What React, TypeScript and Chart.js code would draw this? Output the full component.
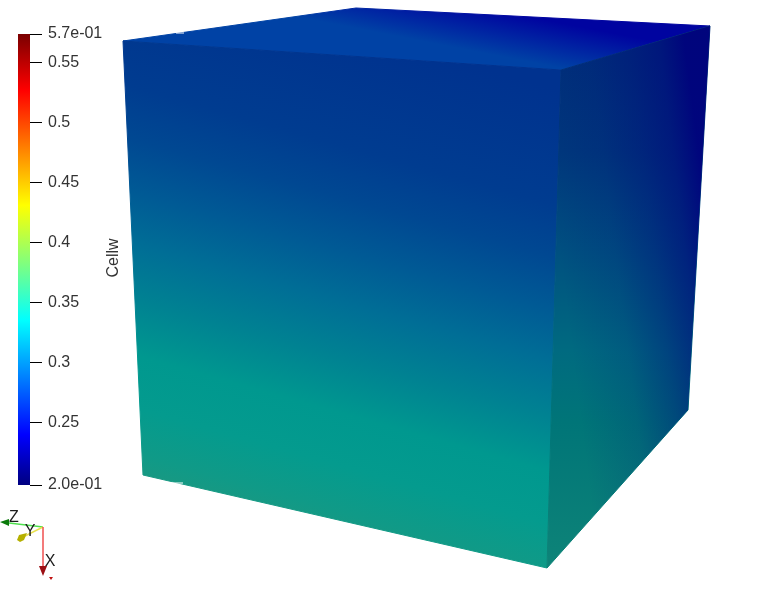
import React, { useEffect, useRef } from "react";
import { Chart, registerables } from "chart.js";

Chart.register(...registerables);

const W = 784;
const H = 611;
const FONT = "'Liberation Sans', Arial, sans-serif";

// colour bar
const barRange = [0.198, 0.5738];
const tickValues = [0.198, 0.25, 0.3, 0.35, 0.4, 0.45, 0.5, 0.55, 0.5738];
const tickLabels = ["2.0e-01", "0.25", "0.3", "0.35", "0.4", "0.45", "0.5", "0.55", "5.7e-01"];
const barStops: [number, string][] = [
  [0, "#000080"], [0.111, "#0000ff"], [0.365, "#00ffff"], [0.49, "#7fff7f"],
  [0.62, "#ffff00"], [0.875, "#ff0000"], [1, "#7a0000"],
];

// cube faces: corners in picture units
const frontX = [123, 561, 547, 143];
const frontY = [41, 70, 568, 475];
const topX = [123, 356, 710, 561];
const topY = [41, 8, 26, 70];
const rightX = [561, 710, 688, 547];
const rightY = [70, 26, 410, 568];

const frontStops: [number, string][] = [
  [0, "#00328f"], [0.2, "#003c90"], [0.29, "#004892"], [0.38, "#005a95"], [0.47, "#006e96"],
  [0.565, "#008292"], [0.66, "#00988f"], [0.75, "#049b8e"], [0.83, "#109a87"], [0.92, "#25967a"], [1, "#25967a"],
];
const topStops: [number, string][] = [[0, "#0004a0"], [1, "#0042a5"]];
const rightStops: [number, string][] = [
  [0, "#00307a"], [0.18, "#00387c"], [0.37, "#004f80"], [0.57, "#006a80"], [0.71, "#007578"], [0.98, "#0d8378"],
];
const rightShade: [number, string][] = [
  [0, "rgba(0,10,125,0)"], [0.37, "rgba(0,10,125,0.15)"], [0.63, "rgba(0,10,125,0.4)"],
  [0.83, "rgba(0,10,125,0.65)"], [1, "rgba(0,0,125,0.9)"],
];

// orientation marker
const origin = [43, 527];
const zEnd = [9, 523];
const yEnd = [23, 537];
const xEnd = [43, 568];
const zConeX = [0, 9, 9];
const zConeY = [522, 519, 526];
const yConeX = [17, 19, 27, 24, 20];
const yConeY = [540, 535, 533, 540, 542];
const xConeX = [39, 47, 43];
const xConeY = [566, 566, 576];
const dotX = [49, 53, 51];
const dotY = [577, 577, 580];
const triadLabels: [string, number, number][] = [["Z", 14, 518], ["Y", 30, 532], ["X", 50, 562]];

const pts = (xs: number[], ys: number[]) => xs.map((x, i) => ({ x, y: ys[i] }));

const gradient = (g: number[], stops: [number, string][]) => (c: any) => {
  if (!c.chart.chartArea) return stops[0][1];
  const grad = c.chart.ctx.createLinearGradient(
    c.chart.scales.x.getPixelForValue(g[0]), c.chart.scales.y.getPixelForValue(g[1]),
    c.chart.scales.x.getPixelForValue(g[2]), c.chart.scales.y.getPixelForValue(g[3]));
  stops.forEach(([p, col]) => grad.addColorStop(p, col));
  return grad;
};

const poly = (xs: number[], ys: number[], fill: any, edge = false) => ({
  data: pts([...xs, xs[0]], [...ys, ys[0]]), showLine: true, fill: "shape", backgroundColor: fill,
  borderWidth: edge ? 1 : 0, borderColor: edge ? fill : "transparent", pointRadius: 0, tension: 0,
});
const seg = (x: number[], y: number[], color: string, width = 1) => ({
  data: pts(x, y), showLine: true, fill: false, borderColor: color, borderWidth: width, pointRadius: 0,
});

const textPlugin = {
  id: "texts",
  afterDatasetsDraw(chart: any) {
    const { ctx } = chart;
    ctx.save();
    ctx.fillStyle = "#1c1c1c";
    ctx.font = `16px ${FONT}`;
    ctx.textAlign = "center";
    ctx.textBaseline = "middle";
    triadLabels.forEach(([t, x, y]) => ctx.fillText(t, x, y));
    ctx.translate(114, 258);
    ctx.rotate(-Math.PI / 2);
    ctx.fillStyle = "#333";
    ctx.fillText("Cellw", 0, 0);
    ctx.restore();
  },
};

export default function App() {
  const mainRef = useRef<HTMLCanvasElement>(null);
  const barRef = useRef<HTMLCanvasElement>(null);

  useEffect(() => {
    const main = new Chart(mainRef.current!, {
      type: "scatter",
      data: {
        // Chart.js paints the first dataset last, so the topmost marks come first.
        datasets: [
          poly(dotX, dotY, "#c01010"),
          poly(xConeX, xConeY, "#9c0f14"),
          poly(yConeX, yConeY, "#b5b000"),
          poly(zConeX, zConeY, "#0b7a0b"),
          seg([origin[0], xEnd[0]], [origin[1], xEnd[1]], "#f05050", 1.5),
          seg([origin[0], yEnd[0]], [origin[1], yEnd[1]], "#e8e050", 1.5),
          seg([origin[0], zEnd[0]], [origin[1], zEnd[1]], "#4fe04f", 1.5),
          seg([171, 183], [483, 483], "#ffffff"),
          seg([176, 184], [33, 33], "#ffffff"),
          poly(rightX, rightY, gradient([565, 300, 715, 281], rightShade)),
          poly(rightX, rightY, gradient([600, 60, 590, 570], rightStops), true),
          poly(frontX, frontY, gradient([345, 30, 193.8, 570], frontStops), true),
          poly(topX, topY, gradient([530, 17, 521.6, 60.4], topStops), true),
        ] as any,
      },
      options: {
        animation: false,
        responsive: false,
        layout: { padding: 0 },
        plugins: { legend: { display: false }, tooltip: { enabled: false } },
        scales: {
          x: { type: "linear", min: 0, max: W, display: false },
          y: { type: "linear", min: 0, max: H, reverse: true, display: false },
        },
      },
      plugins: [textPlugin],
    } as any);

    const bar = new Chart(barRef.current!, {
      type: "bar",
      data: {
        datasets: [{
          data: [{ x: 26, y: barRange }],
          barThickness: 16,
          borderWidth: 0,
          backgroundColor: (c: any) => {
            const area = c.chart.chartArea;
            if (!area) return barStops[0][1];
            const grad = c.chart.ctx.createLinearGradient(0, area.bottom, 0, area.top);
            barStops.forEach(([p, col]) => grad.addColorStop(p, col));
            return grad;
          },
        }],
      } as any,
      options: {
        animation: false,
        responsive: false,
        layout: { padding: { left: 18, top: 34, bottom: H - 485, right: 0 } },
        plugins: { legend: { display: false }, tooltip: { enabled: false } },
        scales: {
          x: { type: "linear", min: 18, max: 30, display: false },
          y: {
            type: "linear",
            position: "right",
            min: barRange[0],
            max: barRange[1],
            z: 1,
            border: { display: false },
            grid: { drawOnChartArea: false, color: "#000", tickLength: 12, tickWidth: 1 },
            afterFit: (s: any) => { s.width = 80; },
            afterBuildTicks: (s: any) => { s.ticks = tickValues.map((value) => ({ value })); },
            ticks: {
              autoSkip: false, padding: 6, color: "#333", maxRotation: 0,
              font: { family: FONT, size: 16 },
              callback: (v: any) => tickLabels[tickValues.indexOf(v)],
            },
          },
        },
      },
    } as any);

    return () => { main.destroy(); bar.destroy(); };
  }, []);

  return (
    <div>
      <canvas ref={mainRef} width={W} height={H} style={{ position: "fixed", left: 0, top: 0 }} />
      <canvas ref={barRef} width={110} height={H} style={{ position: "fixed", left: 0, top: 0 }} />
    </div>
  );
}
